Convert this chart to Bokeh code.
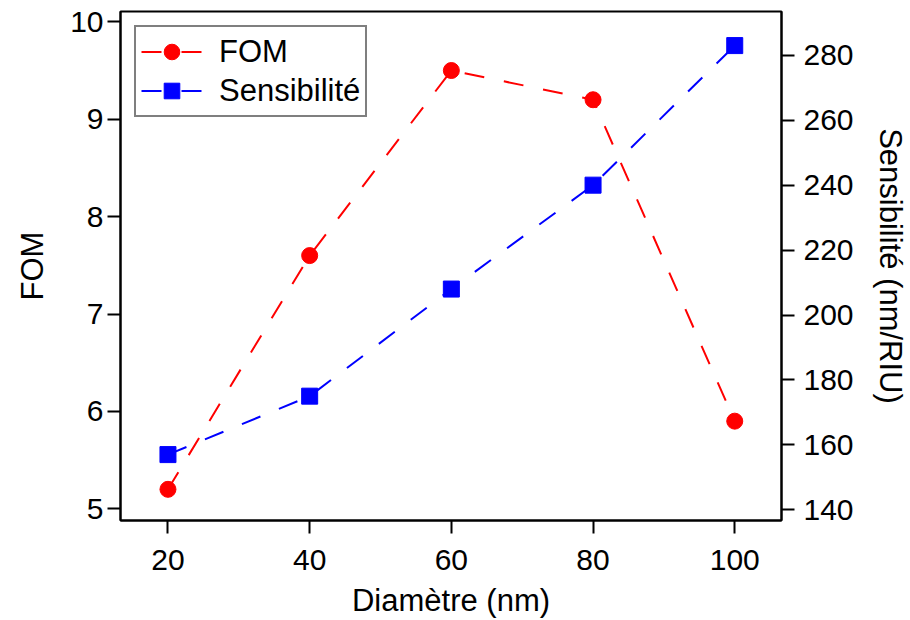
from bokeh.plotting import figure
from bokeh.models import Range1d, LinearAxis, FixedTicker
from bokeh.embed import file_html
from bokeh.resources import INLINE

diametre = [20, 40, 60, 80, 100]
fom = [5.2, 7.6, 9.5, 9.2, 5.9]
sensibilite = [157, 175, 208, 240, 283]

x_ticks = [20, 40, 60, 80, 100]
fom_ticks = [5, 6, 7, 8, 9, 10]
sens_ticks = [140, 160, 180, 200, 220, 240, 260, 280]

FONT = "Liberation Sans"

p = figure(width=910, height=620, output_backend="svg", toolbar_location=None,
           x_range=Range1d(13.3, 106.6), y_range=Range1d(4.88, 10.106),
           min_border_left=120, min_border_right=129, min_border_top=11, min_border_bottom=100)
p.extra_y_ranges = {"sens": Range1d(136.7, 293.5)}

p.xgrid.visible = False
p.ygrid.visible = False
p.outline_line_color = "black"
p.outline_line_width = 2
p.background_fill_color = "white"
p.border_fill_color = "white"

def style_axis(ax, ticks, label, standoff, lab_standoff):
    ax.ticker = FixedTicker(ticks=ticks)
    ax.axis_label = label
    ax.axis_label_text_font = FONT
    ax.axis_label_text_font_size = "31px"
    ax.axis_label_text_font_style = "normal"
    ax.axis_label_text_color = "black"
    ax.major_label_text_font = FONT
    ax.major_label_text_font_size = "30px"
    ax.major_label_text_color = "black"
    ax.axis_line_color = "black"
    ax.axis_line_width = 2
    ax.major_tick_line_color = "black"
    ax.major_tick_line_width = 2
    ax.major_tick_out = 13
    ax.major_tick_in = 0
    ax.minor_tick_line_color = None
    ax.major_label_standoff = standoff
    ax.axis_label_standoff = lab_standoff

style_axis(p.xaxis[0], x_ticks, "Diamètre (nm)", 16, 10)
style_axis(p.yaxis[0], fom_ticks, "FOM", 4, 17)

right = LinearAxis(y_range_name="sens")
style_axis(right, sens_ticks, "Sensibilité (nm/RIU)", 9, 16)
p.add_layout(right, "right")

p.line(diametre, fom, line_color="#FF0000", line_width=2, line_dash="20 20", legend_label="FOM")
p.scatter(diametre, fom, marker="circle", size=16, fill_color="#FF0000", line_color="#FF0000",
          legend_label="FOM")

p.line(diametre, sensibilite, line_color="#0000FF", line_width=2, line_dash="20 20",
       y_range_name="sens", legend_label="Sensibilité")
p.scatter(diametre, sensibilite, marker="square", size=16, fill_color="#0000FF", line_color="#0000FF",
          y_range_name="sens", legend_label="Sensibilité")

lg = p.legend[0]
lg.location = "top_left"
lg.margin = 14
lg.padding = 5
lg.spacing = 0
lg.glyph_width = 61
lg.glyph_height = 39
lg.label_standoff = 17
lg.label_text_font = FONT
lg.label_text_font_size = "31px"
lg.label_text_color = "black"
lg.border_line_color = "black"
lg.border_line_width = 2
lg.background_fill_alpha = 1.0

open("out.html", "w").write(file_html(p, INLINE))
